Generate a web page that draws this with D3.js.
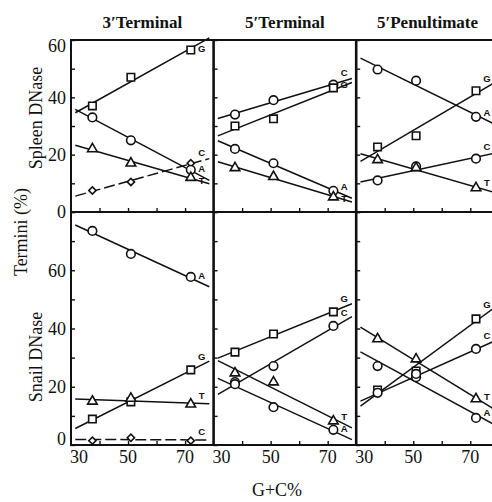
<!DOCTYPE html>
<html>
<head>
<meta charset="utf-8">
<script src="https://cdn.jsdelivr.net/npm/d3@7"></script>
<style>
  body { margin: 0; background: #fff; }
  svg { display: block; }
  text { font-family: "Liberation Serif", "Times New Roman", serif; fill: #111; }
</style>
</head>
<body>
<script>
const width = 492;
const height = 502;

const columns = ["3\u2032Terminal", "5\u2032Terminal", "5\u2032Penultimate"];
const rows = ["Spleen DNase", "Snail DNase"];
const gc = [37.5, 51, 72];
const xTicks = [30, 50, 70];
const yTickLabels = [0, 20, 40, 60];

// termini (%) per panel
const spleen3T = {G: [37, 47, 56.5], C: [7.5, 10.5, 17], A: [33, 25, 14.7], T: [22, 17, 12]};
const spleen5T = {C: [34, 39, 44.4], G: [30, 32.5, 43.3], A: [22, 17, 7.4], T: [15.4, 12.3, 5.2]};
const spleen5P = {A: [49.7, 45.8, 33.2], G: [22.7, 26.6, 42.3], C: [11, 15.9, 18.6], T: [18.2, 15.4, 8.4]};
const snail3T = {A: [73.5, 65.6, 57.7], G: [8.9, 14.8, 25.8], T: [15, 16, 14], C: [1.5, 2.5, 1.5]};
const snail5T = {G: [31.9, 38.1, 45.7], C: [21.6, 27.1, 40.9], T: [24.7, 21.6, 8.2], A: [20.9, 13, 5.2]};
const snail5P = {G: [18.9, 25.4, 43.3], C: [17.9, 23.3, 33], T: [36.4, 29.5, 15.8], A: [27.1, 24.4, 9.3]};

const panels = [[spleen3T, spleen5T, spleen5P], [snail3T, snail5T, snail5P]];

// layout
const plotLeft = 71, plotTop = 40, plotMid = 212, plotBottom = 445, colW = 142.6;
const lineExtent = [31.5, 78.5];

const svg = d3.select('body')
  .append('svg')
  .attr('width', width)
  .attr('height', height);

const xScales = columns.map((c, i) =>
  d3.scaleLinear().domain([30, 80]).range([plotLeft + i * colW, plotLeft + (i + 1) * colW]));
const yScales = [
  d3.scaleLinear().domain([0, 60]).range([plotMid, plotTop]),
  d3.scaleLinear().domain([0, 80]).range([plotBottom, plotMid])
];

function fit(vals) {
  const mx = d3.mean(gc), my = d3.mean(vals);
  const sxy = d3.sum(gc, (x, i) => (x - mx) * (vals[i] - my));
  const sxx = d3.sum(gc, x => (x - mx) ** 2);
  const b = sxy / sxx;
  return x => my + b * (x - mx);
}

// C in the 3' terminal panels is a small diamond (square turned 45deg)
const isDiamond = (base, col) => base === 'C' && col === 0;
const symbolFor = (base) => {
  if (base === 'G') return d3.symbolSquare;
  if (base === 'T') return d3.symbolTriangle;
  return d3.symbolCircle;
};
const sizeFor = (base) => {
  if (base === 'G') return 56;
  if (base === 'T') return 40;
  return 58;
};

// ticks (inner)
rows.forEach((r, ri) => {
  const y = yScales[ri];
  xScales.forEach((x, ci) => {
    svg.append('g')
      .attr('transform', `translate(${x.range()[0]},0)`)
      .call(d3.axisRight(y).tickValues(d3.range(0, y.domain()[1] + 1, 10)).tickSize(4).tickFormat(''))
      .call(g => g.select('.domain').remove())
      .selectAll('line').attr('stroke', '#111').attr('stroke-width', 1.4);
    svg.append('g')
      .attr('transform', `translate(0,${y.range()[0]})`)
      .call(d3.axisTop(x).tickValues([40, 50, 60, 70]).tickSize(4).tickFormat(''))
      .call(g => g.select('.domain').remove())
      .selectAll('line').attr('stroke', '#111').attr('stroke-width', 1.4);
  });
});

// frame
const plotRight = plotLeft + 3 * colW;
svg.append('rect')
  .attr('x', plotLeft).attr('y', plotTop)
  .attr('width', plotRight - plotLeft).attr('height', plotBottom - plotTop)
  .attr('fill', 'none').attr('stroke', '#111').attr('stroke-width', 2);
svg.append('line')
  .attr('x1', plotLeft).attr('x2', plotRight).attr('y1', plotMid).attr('y2', plotMid)
  .attr('stroke', '#111').attr('stroke-width', 2.2);
xScales.slice(1).forEach(x => {
  svg.append('line')
    .attr('x1', x.range()[0]).attr('x2', x.range()[0])
    .attr('y1', plotTop).attr('y2', plotBottom)
    .attr('stroke', '#111').attr('stroke-width', 2.6);
});

// series
panels.forEach((rowData, ri) => {
  const y = yScales[ri];
  const [yLo, yHi] = y.range();
  rowData.forEach((panel, ci) => {
    const x = xScales[ci];
    const g = svg.append('g');
    const labels = [];
    Object.entries(panel).forEach(([base, vals]) => {
      const f = fit(vals);
      g.append('line')
        .attr('x1', x(lineExtent[0])).attr('y1', y(f(lineExtent[0])))
        .attr('x2', x(lineExtent[1])).attr('y2', y(f(lineExtent[1])))
        .attr('stroke', '#111').attr('stroke-width', 1.5)
        .attr('stroke-dasharray', isDiamond(base, ci) ? '11,4' : null);
      labels.push({base, y: Math.max(yHi + 9, y(f(76)) - 8)});
    });
    Object.entries(panel).forEach(([base, vals]) => {
      const dia = isDiamond(base, ci);
      g.selectAll(null)
        .data(vals)
        .join('path')
        .attr('transform', (d, i) => `translate(${x(gc[i])},${y(d)})` + (dia ? ' rotate(45)' : ''))
        .attr('d', d3.symbol(dia ? d3.symbolSquare : symbolFor(base), dia ? 26 : sizeFor(base)))
        .attr('fill', '#fff')
        .attr('stroke', '#111')
        .attr('stroke-width', 1.6);
    });
    // keep the end letters apart
    labels.sort((a, b) => a.y - b.y);
    for (let i = 1; i < labels.length; i++) {
      if (labels[i].y - labels[i - 1].y < 12) labels[i].y = labels[i - 1].y + 12;
    }
    labels.forEach(l => { l.y = Math.min(l.y, yLo - 5); });
    g.selectAll(null)
      .data(labels)
      .join('text')
      .attr('x', x(75.8))
      .attr('y', d => d.y)
      .attr('dy', '0.35em')
      .attr('text-anchor', 'middle')
      .style('font-family', '"Liberation Sans", Arial, sans-serif')
      .style('font-weight', 'bold')
      .style('font-size', '9.5px')
      .text(d => d.base);
  });
});

// y tick labels
yScales.forEach(y => {
  svg.selectAll(null)
    .data(yTickLabels)
    .join('text')
    .attr('x', plotLeft - 5)
    .attr('y', d => Math.max(plotTop + 6, Math.min(plotBottom - 6, y(d))))
    .attr('dy', '0.35em')
    .attr('text-anchor', 'end')
    .style('font-size', '18px')
    .text(d => d);
});

// x tick labels
xScales.forEach(x => {
  svg.selectAll(null)
    .data(xTicks)
    .join('text')
    .attr('x', d => d === 30 ? x(d) - 1 : x(d))
    .attr('y', 463)
    .attr('text-anchor', d => d === 30 ? 'start' : 'middle')
    .style('font-size', '18px')
    .text(d => d);
});

// column titles
svg.selectAll(null)
  .data(columns)
  .join('text')
  .attr('x', (d, i) => xScales[i](55))
  .attr('y', 28)
  .attr('text-anchor', 'middle')
  .style('font-size', '17px')
  .style('font-weight', 'bold')
  .text(d => d);

// row titles
svg.selectAll(null)
  .data(rows)
  .join('text')
  .attr('transform', (d, i) => `translate(42,${[118, 357][i]}) rotate(-90)`)
  .attr('text-anchor', 'middle')
  .style('font-size', '18px')
  .text(d => d);

svg.append('text')
  .attr('transform', 'translate(27,232) rotate(-90)')
  .attr('text-anchor', 'middle')
  .style('font-size', '18px')
  .text('Termini (%)');

svg.append('text')
  .attr('x', 277)
  .attr('y', 496)
  .attr('text-anchor', 'middle')
  .style('font-size', '18px')
  .text('G+C%');
</script>
</body>
</html>
